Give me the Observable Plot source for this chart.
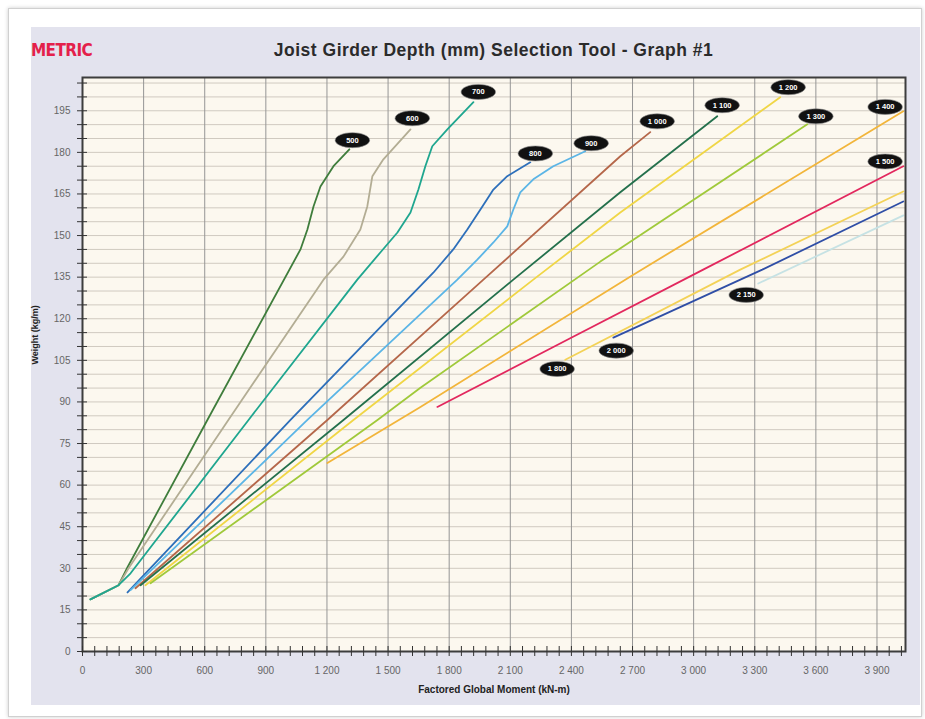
<!DOCTYPE html>
<html>
<head>
<meta charset="utf-8">
<script src="https://cdn.jsdelivr.net/npm/d3@7"></script>
<script src="https://cdn.jsdelivr.net/npm/@observablehq/plot@0.6"></script>
<style>
  html, body { margin: 0; padding: 0; background: #ffffff; }
  body { position: relative; width: 925px; height: 719px; overflow: hidden; font-family: "Liberation Sans", Arial, sans-serif; }
  #card { position: absolute; left: 8px; top: 8px; width: 912px; height: 707px; border: 1px solid #d0d0d0; box-shadow: 0 0 4px rgba(0,0,0,0.2); background: #fff; }
  #panel { position: absolute; left: 31px; top: 27px; width: 889px; height: 678px; background: #e3e3ee; }
  #metric { position: absolute; left: 31px; top: 39px; color: #e4204a; font-family: "DejaVu Sans Condensed", "DejaVu Sans", sans-serif; font-weight: bold; font-size: 17px; line-height: 22px; letter-spacing: -0.6px; }
  #title { position: absolute; left: 82px; width: 823px; top: 39px; text-align: center; color: #2b2b2b; font-family: "Liberation Sans", Arial, sans-serif; font-weight: bold; font-size: 17.5px; line-height: 22px; letter-spacing: 0.5px; }
  #chart { position: absolute; left: 0; top: 0; }
</style>
</head>
<body>
<div id="card"></div>
<div id="panel"></div>
<div id="metric">METRIC</div>
<div id="title">Joist Girder Depth (mm) Selection Tool - Graph #1</div>
<div id="chart"></div>
<script>
// ---- Data (x: Factored Global Moment kN-m, y: Weight kg/m) ----
const d500  = [[39,18.8],[177,23.9],[221,30.4],[613,83.5],[1070,145],[1104,152.2],[1134,160.5],[1168,167.7],[1232,175.0],[1310,181.1]];
const d600  = [[39,18.8],[177,23.9],[226,30.0],[716,83.5],[1183,134.1],[1281,142.4],[1364,152.2],[1398,160.5],[1423,171.4],[1477,177.5],[1610,188.3]];
const d700  = [[39,18.8],[177,23.9],[236,28.2],[815,83.5],[1349,134.1],[1462,143.9],[1546,151.1],[1610,158.3],[1649,166.6],[1683,175.0],[1717,182.2],[1791,188.3],[1919,198.1]];
const d800  = [[221,21.3],[1021,83.5],[1722,136.6],[1820,145.0],[1889,152.2],[1963,160.5],[2017,166.6],[2085,171.4],[2198,176.4]];
const d900  = [[236,22.1],[1104,83.5],[1840,134.1],[1938,141.3],[2017,147.5],[2085,153.3],[2115,159.4],[2149,165.6],[2213,170.3],[2311,175.0],[2468,180.4]];
const d1000 = [[260,22.8],[1202,83.5],[1968,134.1],[2640,178.6],[2787,187.3]];
const d1100 = [[285,23.9],[1281,83.5],[2115,134.1],[2640,165.6],[3116,193.0]];
const d1200 = [[309,23.9],[1330,83.5],[2213,134.1],[2640,158.3],[3425,199.9]];
const d1300 = [[334,24.6],[1448,83.5],[1659,95.1],[2542,140.6],[3558,190.1]];
const d1400 = [[1202,68.0],[1659,88.2],[2704,135.9],[4029,194.8]];
const d1500 = [[1742,88.2],[2380,112.4],[3047,137.7],[4029,175.0]];
const d1800 = [[2370,105.2],[3229,137.7],[4029,165.9]];
const d2000 = [[2606,113.2],[3337,137.7],[4029,162.3]];
const d2150 = [[3317,132.7],[4030,157.3]];

const depthLabels = ["500","600","700","800","900","1 000","1 100","1 200","1 300","1 400","1 500","1 800","2 000","2 150"];
const depthSeries = [d500,d600,d700,d800,d900,d1000,d1100,d1200,d1300,d1400,d1500,d1800,d2000,d2150];
const depthColors = ["#3f7d3c","#b3ad94","#1fa68f","#2d6fba","#5bb5e6","#b5674a","#24704c","#f0d646","#a0c93a","#f2b53a","#e2285e","#f3d257","#2f4ea6","#c6e2e4"];

// Label bubble positions (data units)
const labelX = [1325,1619,1943,2223,2497,2821,3140,3464,3600,3940,3940,2330,2620,3258];
const labelY = [184.4,192.3,201.8,179.6,183.3,191.2,197.0,203.5,193.0,196.4,176.7,101.9,108.5,128.6];

// Axis ticks and labels
const xTicks = [0,300,600,900,1200,1500,1800,2100,2400,2700,3000,3300,3600,3900];
const xTickLabels = ["0","300","600","900","1 200","1 500","1 800","2 100","2 400","2 700","3 000","3 300","3 600","3 900"];
const xMinorTicks = d3.range(0, 4040, 60);
const yTicks = [0,15,30,45,60,75,90,105,120,135,150,165,180,195];
const yTickLabels = ["0","15","30","45","60","75","90","105","120","135","150","165","180","195"];
const yMinorTicks = d3.range(0, 206, 5);

const labels = depthLabels.map((t, i) => ({text: t, x: labelX[i], y: labelY[i]}));

const ellipse = {
  draw(ctx, size) {
    const ry = Math.sqrt(size / Math.PI), rx = ry * 2.3, k = 0.5523;
    ctx.moveTo(rx, 0);
    ctx.bezierCurveTo(rx, ry * k, rx * k, ry, 0, ry);
    ctx.bezierCurveTo(-rx * k, ry, -rx, ry * k, -rx, 0);
    ctx.bezierCurveTo(-rx, -ry * k, -rx * k, -ry, 0, -ry);
    ctx.bezierCurveTo(rx * k, -ry, rx, -ry * k, rx, 0);
    ctx.closePath();
  }
};

const lineMarks = depthSeries.map((pts, i) =>
  Plot.line(pts, {x: d => d[0], y: d => d[1], stroke: depthColors[i], strokeWidth: 1.8, strokeLinejoin: "round"})
);

const chart = Plot.plot({
  width: 925,
  height: 719,
  marginTop: 77,
  marginLeft: 82,
  marginRight: 20,
  marginBottom: 68,
  style: {background: "transparent", fontFamily: "Liberation Sans, Arial, sans-serif", overflow: "visible"},
  x: {domain: [0, 4040], axis: null},
  y: {domain: [0, 207], axis: null},
  marks: [
    Plot.frame({fill: "#fcf8ef"}),
    Plot.gridY(yMinorTicks, {stroke: "#d0cac0", strokeOpacity: 1}),
    Plot.gridX(xTicks, {stroke: "#959595", strokeOpacity: 1}),
    ...lineMarks,
    Plot.frame({stroke: "#3d3d3d", strokeWidth: 2}),
    Plot.axisY(yMinorTicks, {tickSize: 10, dx: 5, tickFormat: () => "", stroke: "#333", label: null}),
    Plot.axisY(yTicks, {tickSize: 0, tickPadding: 12, tickFormat: d => yTickLabels[yTicks.indexOf(d)], fill: "#666", fontSize: 10, label: null}),
    Plot.axisX(xMinorTicks, {tickSize: 10, dy: -5, tickFormat: () => "", stroke: "#333", label: null}),
    Plot.axisX(xTicks, {tickSize: 0, tickPadding: 15, tickFormat: d => xTickLabels[xTicks.indexOf(d)], fill: "#666", fontSize: 10, label: null}),
    Plot.text(["Weight (kg/m)"], {frameAnchor: "left", dx: -47, rotate: -90, fontWeight: "bold", fontSize: 9, fill: "#222"}),
    Plot.text(["Factored Global Moment (kN-m)"], {frameAnchor: "bottom", dy: 41, fontWeight: "bold", fontSize: 10, fill: "#222"}),
    Plot.dot(labels, {x: "x", y: "y", r: 7.5, symbol: ellipse, fill: "#111", stroke: "#8a8a8a", strokeWidth: 0.6}),
    Plot.text(labels, {x: "x", y: "y", text: "text", fill: "#fff", fontSize: 7.5, fontWeight: "bold"})
  ]
});
document.getElementById("chart").appendChild(chart);
</script>
</body>
</html>
